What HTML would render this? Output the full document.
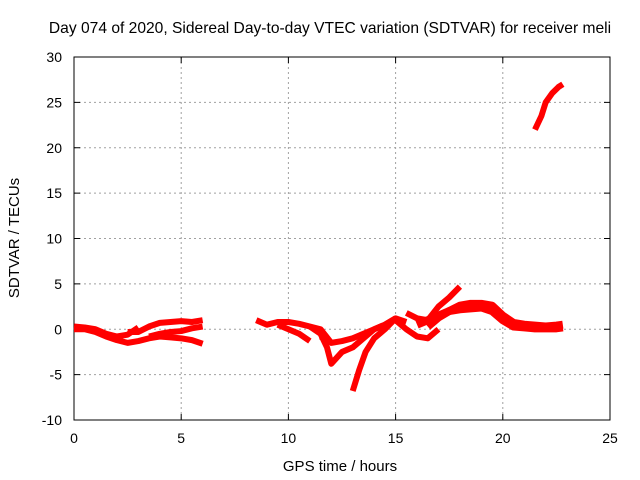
<!DOCTYPE html>
<html><head><meta charset="utf-8"><style>
body{margin:0;background:#fff}
svg{display:block;font-family:"Liberation Sans",sans-serif}
</style></head><body>
<svg id="c" width="640" height="480">
<rect width="640" height="480" fill="#fff"/>
<g id="grid"></g><g id="axes"></g><g id="marks"></g>
<text x="330" y="33" font-size="15.6" text-anchor="middle">Day 074 of 2020, Sidereal Day-to-day VTEC variation (SDTVAR) for receiver meli</text>
<text x="340" y="471" font-size="15" text-anchor="middle">GPS time / hours</text>
<text transform="translate(19,238) rotate(-90)" font-size="15" text-anchor="middle">SDTVAR / TECUs</text>
</svg>
<script>
const xTicks=[0,5,10,15,20,25];
const yTicks=[-10,-5,0,5,10,15,20,25,30];
const s1x=[0,0.5,1,1.5,2,2.5,3], s1y=[0.3,0.2,0,-0.5,-0.8,-0.6,0.2];
const s2x=[0,0.5,1,1.5,2,2.5,3,3.5,4,4.5,5,5.5,6], s2y=[0,0,-0.3,-0.8,-1.2,-1.5,-1.3,-1.0,-0.8,-0.9,-1.0,-1.2,-1.6];
const s3x=[2.5,3,3.5,4,4.5,5,5.5,6], s3y=[-0.3,-0.3,0.3,0.7,0.8,0.9,0.8,1.0];
const s4x=[3.5,4,4.5,5,5.5,6], s4y=[-0.8,-0.5,-0.3,-0.2,0.1,0.3];
const s5x=[8.5,9,9.5,10,10.5,11,11.5,12], s5y=[1,0.5,0.8,0.8,0.6,0.3,0,-1.5];
const s6x=[9.5,10,10.5,11], s6y=[0.5,0,-0.5,-1.3];
const s7x=[11,11.5,11.8,12,12.5,13,13.5,14,14.5,15], s7y=[0.3,-0.5,-2,-3.8,-2.5,-2,-1,0,0.5,1.2];
const s8x=[11.5,12,12.5,13,13.5,14,14.5,15,15.5], s8y=[-0.8,-1.5,-1.3,-1.0,-0.5,0,0.5,1.2,0.8];
const s9x=[13,13.3,13.6,14,14.5,15], s9y=[-6.8,-4.5,-2.5,-1,0,1.2];
const s10x=[15,15.5,16,16.5,17], s10y=[1.0,0,-0.8,-1.0,0];
const s11x=[15.5,16,16.5,17,17.5,18], s11y=[1.8,1.2,1.0,2.5,3.5,4.7];
const s12x=[16,16.5,17,17.5,18,18.5,19,19.5,20,20.5,21,21.5,22,22.5,22.8], s12y=[0.5,1,1.5,2,2.2,2.3,2.4,2,1,0.3,0.2,0.1,0.1,0.1,0.2];
const s13x=[16.5,17,17.5,18,18.5,19,19.5,20,20.5,21,21.5,22,22.5,22.8], s13y=[0.3,1.3,2,2.6,2.8,2.8,2.6,1.5,0.7,0.5,0.4,0.3,0.4,0.5];
const s14x=[21.5,21.8,22,22.3,22.6,22.8], s14y=[22,23.5,25,26,26.7,27];
const series=[[s1x,s1y],[s2x,s2y],[s3x,s3y],[s4x,s4y],[s5x,s5y],[s6x,s6y],[s7x,s7y],[s8x,s8y],[s9x,s9y],[s10x,s10y],[s11x,s11y],[s12x,s12y],[s13x,s13y],[s14x,s14y]];
const X=h=>74+h*21.44, Y=v=>57+(30-v)*9.075;
const NS="http://www.w3.org/2000/svg";
const grid=document.getElementById('grid'),axes=document.getElementById('axes'),marks=document.getElementById('marks');
function mk(p,t,a){const e=document.createElementNS(NS,t);for(const k in a)e.setAttribute(k,a[k]);p.appendChild(e);return e;}
xTicks.forEach(t=>{
 if(t>0&&t<25){const g=mk(grid,'line',{x1:X(t),x2:X(t),y1:57,y2:420,stroke:'#a0a0a0','stroke-dasharray':'2,3'});
 
 }
 const tx=mk(axes,'text',{x:X(t),y:443,'font-size':14,'text-anchor':'middle'});tx.textContent=t;
 
 
 mk(axes,'line',{x1:X(t),x2:X(t),y1:420,y2:414,stroke:'#000'});
 mk(axes,'line',{x1:X(t),x2:X(t),y1:57,y2:63,stroke:'#000'});
});
yTicks.forEach(t=>{
 if(t>-10&&t<30){const g=mk(grid,'line',{x1:74,x2:610,y1:Y(t),y2:Y(t),stroke:'#a0a0a0','stroke-dasharray':'2,3'});
 
 }
 const tx=mk(axes,'text',{x:62,y:Y(t)+5,'font-size':14,'text-anchor':'end'});tx.textContent=t;
 
 
 mk(axes,'line',{x1:74,x2:80,y1:Y(t),y2:Y(t),stroke:'#000'});
 mk(axes,'line',{x1:604,x2:610,y1:Y(t),y2:Y(t),stroke:'#000'});
});
const fr=mk(axes,'rect',{x:74,y:57,width:536,height:363,fill:'none',stroke:'#000'});


series.forEach(([xs,ys],i)=>{
 const pts=xs.map((x,j)=>X(x)+','+Y(ys[j])).join(' ');
 const pl=mk(marks,'polyline',{points:pts,fill:'none',stroke:'#ff0000','stroke-width':(i===11||i===12)?8:6,'stroke-linejoin':'round'});
 
 
});
</script>
</body></html>
